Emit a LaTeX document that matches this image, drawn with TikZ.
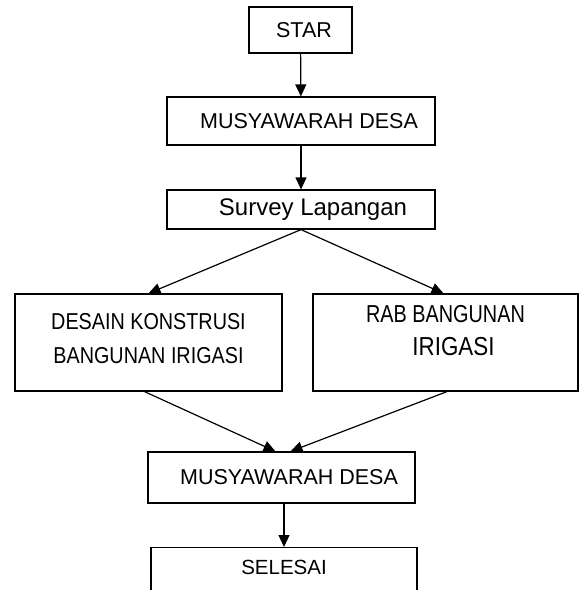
\documentclass[tikz,border=0pt]{standalone}
\usepackage{fontspec}
\setmainfont{Liberation Sans}
\newfontfamily\narrowsans[FakeStretch=0.86]{Liberation Sans}
\newfontfamily\narrowersans[FakeStretch=0.81]{Liberation Sans}
\usetikzlibrary{arrows.meta}

\begin{document}
\begin{tikzpicture}[
    x=1pt, y=-1pt,
    box/.style={rectangle, draw, line width=1.2pt, inner sep=2pt, font=\fontsize{21.5}{26}\selectfont},
    wide/.style={box, minimum width=268pt},
    flow/.style={draw, line width=1.2pt, -{Triangle[width=11pt,length=12pt]}}
]
\useasboundingbox (0,0) rectangle (579,590);
\clip (0,0) rectangle (579,590);

\node[box, minimum width=103pt, minimum height=46pt] (star) at (300.5,30) {\hspace*{7pt}STAR};
\node[wide, minimum height=48pt] (musy1) at (301,121) {\hspace*{16pt}MUSYAWARAH DESA};
\node[wide, minimum height=39pt, font=\fontsize{24}{28}\selectfont] (survey) at (301,209.5) {\hspace*{24pt}Survey Lapangan};
\node[wide, minimum width=267pt, minimum height=97pt, align=center, text depth=9pt,
      font=\narrowsans\fontsize{23}{34}\selectfont] (desain) at (148.5,342.5) {DESAIN KONSTRUSI\\BANGUNAN IRIGASI};
\node[wide, minimum width=265pt, minimum height=97pt, align=center, text depth=24pt,
      font=\narrowsans\fontsize{26}{33}\selectfont] (rab) at (445.5,342.5) {{\narrowersans\fontsize{24.5}{33}\selectfont RAB BANGUNAN}\\\hspace*{16pt}IRIGASI};
\node[wide, minimum width=267pt, minimum height=51pt] (musy2) at (281.5,477.5) {\hspace*{15pt}MUSYAWARAH DESA};
\node[wide, minimum width=266pt, minimum height=80pt, anchor=north, text depth=40pt,
      font=\fontsize{20.5}{25}\selectfont] (selesai) at (284,547) {SELESAI};

% alur
\draw[flow] (star) -- (musy1);
\draw[flow] (musy1) -- (survey);
\draw[flow] (survey.south) -- (desain.north);
\draw[flow] (survey.south) -- ([xshift=-2pt]rab.north);
\draw[flow] ([xshift=-4pt]desain.south) -- ([xshift=-6pt]musy2.north);
\draw[flow] ([xshift=1.5pt]rab.south) -- ([xshift=9pt]musy2.north);
\draw[flow] (selesai.north |- musy2.south) -- (selesai.north);
\end{tikzpicture}
\end{document}
